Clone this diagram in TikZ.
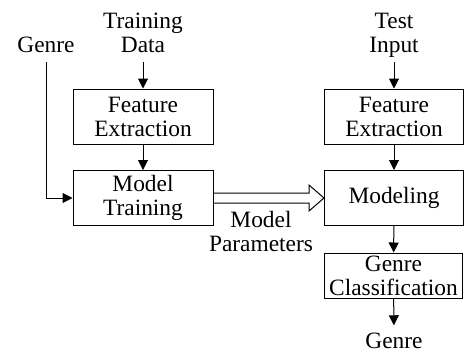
\documentclass[tikz,border=0pt]{standalone}
\usepackage{fontspec}
\setmainfont{Liberation Serif}
\usetikzlibrary{arrows.meta}

\tikzset{
  block/.style={draw, line width=0.5pt, minimum width=70pt, minimum height=27.5pt,
    inner sep=0pt, align=center},
  label/.style={inner sep=0pt, outer sep=4.5pt, align=center, text depth=0pt},
  arr/.style={line width=0.5pt, -{Triangle[length=5pt,width=5pt]}}
}

\begin{document}
\begin{tikzpicture}[x=0.5pt,y=-0.5pt,font=\fontsize{11.7}{12}\selectfont]
  \useasboundingbox (0,0) rectangle (464,359);

  % Training
  \begin{scope}
    \node[label] (trdata) at (143,33) {Training\\Data};
    \node[label] (genrein) at (46,45) {Genre};
    \node[block] (fe1) at (143,116.5) {Feature\\Extraction};
    \node[block] (mt) at (143,198) {Model\\Training};

    \draw[arr] (trdata) -- (fe1);
    \draw[arr] (fe1) -- (mt);
    \draw[arr] (genrein.south) |- (mt.west);
  \end{scope}

  % Testing
  \begin{scope}
    \node[label] (testin) at (394,33) {Test\\Input};
    \node[block, minimum width=69.5pt] (fe2) at (394,116.5) {Feature\\Extraction};
    \node[block, minimum width=69.5pt] (mod) at (394,198) {Modeling};
    \node[block, minimum width=69pt, minimum height=22.5pt] (gc) at (393.5,275.5) {Genre\\Classification};
    \node[label, outer sep=4pt] (genreout) at (394,341) {Genre};

    \draw[arr] (testin) -- (fe2);
    \draw[arr] (fe2) -- (mod);
    \draw[arr] (mod) -- (gc);
    \draw[arr] (gc) -- (genreout);
  \end{scope}

  % Parameters
  \draw[line width=0.5pt] ([yshift=2.5pt]mt.east) -- ([xshift=-7.5pt,yshift=2.5pt]mod.west)
    -- ([xshift=-7.5pt,yshift=6.5pt]mod.west) -- (mod.west)
    -- ([xshift=-7.5pt,yshift=-6.5pt]mod.west) -- ([xshift=-7.5pt,yshift=-2.5pt]mod.west)
    -- ([yshift=-2.5pt]mt.east);
  \node[label] (params) at (261,231) {Model\\Parameters};
\end{tikzpicture}
\end{document}
